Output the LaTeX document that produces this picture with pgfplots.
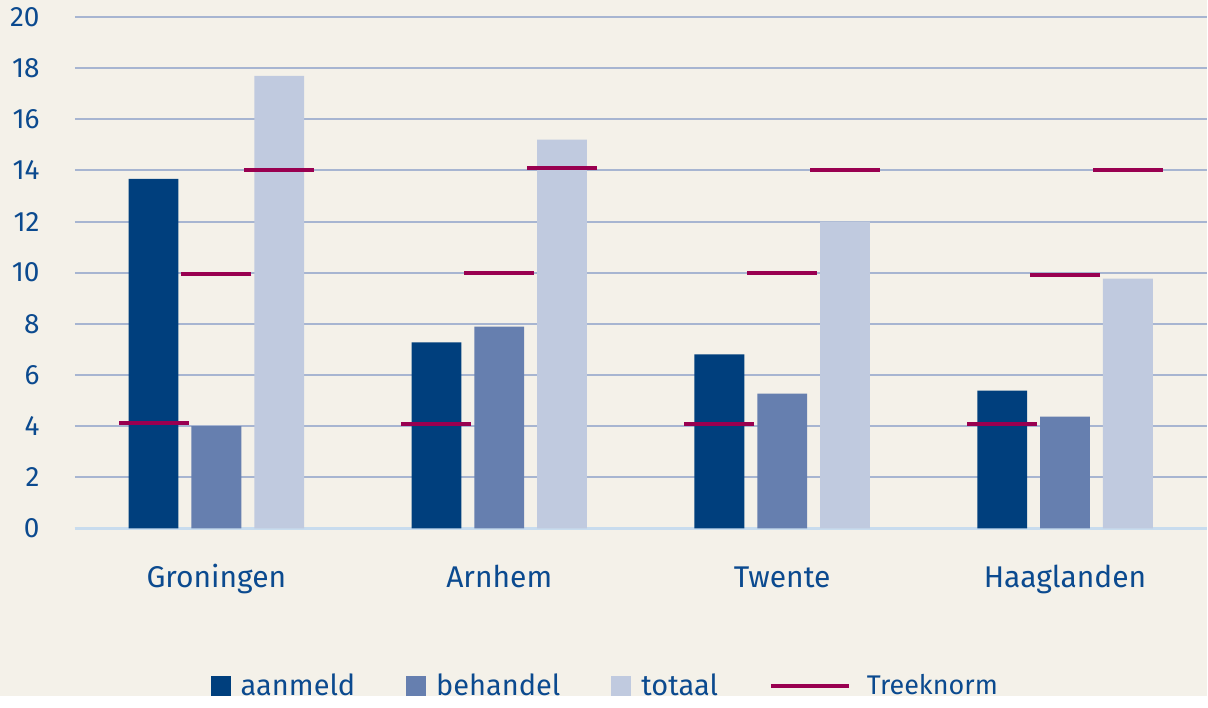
\documentclass[border=0pt]{standalone}
\usepackage{fontspec}
\setmainfont{Fira Sans}
\usepackage{pgfplots}
\pgfplotsset{compat=1.18}

\definecolor{bg}{HTML}{F4F1E9}
\definecolor{txt}{HTML}{0B4A8F}
\definecolor{aanm}{HTML}{003F7D}
\definecolor{behan}{HTML}{667FAF}
\definecolor{totl}{HTML}{C0CADF}
\definecolor{treek}{HTML}{990050}
\definecolor{gridc}{HTML}{A7B5D1}
\definecolor{zeroline}{HTML}{C8DCEE}

\begin{document}
\begin{tikzpicture}
  % page background, 1208 x 697 px at 0.5pt per px
  \fill[bg] (0pt,0pt) rectangle (604pt,348.5pt);
  \begin{axis}[
      at={(37.5pt,84pt)}, anchor=south west,
      scale only axis, width=566.5pt, height=256pt,
      xmin=-0.5, xmax=3.5, ymin=0, ymax=20,
      ytick={0,2,...,20},
      xtick={0,1,2,3},
      xticklabels={Groningen, Arnhem, Twente, Haaglanden},
      major tick length=0pt,
      ymajorgrids,
      grid style={gridc, line width=1pt},
      axis x line*=bottom, axis y line*=left,
      x axis line style={zeroline, line width=1.5pt, -},
      y axis line style={draw=none},
      tick label style={txt},
      yticklabel style={font=\fontsize{14}{16}\selectfont, inner sep=0pt, anchor=east, xshift=-17.5pt},
      xticklabel style={font=\fontsize{15}{17}\selectfont, inner sep=0pt, anchor=base, yshift=-29.5pt},
      /pgf/number format/assume math mode=true,
      bar width=0.176,
      legend style={
          at={(0.470,-0.309)}, anchor=center,
          draw=none, fill=none,
          legend columns=-1,
          font=\fontsize{14.5}{17}\selectfont, text=txt,
          /tikz/every even column/.append style={column sep=23pt},
          /tikz/every odd column/.append style={column sep=2.5pt},
          nodes={inner sep=2.5pt},
      },
    ]
    \addplot[ybar, bar shift=-0.222, fill=aanm, draw=none,
      legend image code/.code={\fill[aanm] (0pt,-5pt) rectangle (10pt,5pt);}]
      coordinates {(0,13.67) (1,7.27) (2,6.8) (3,5.39)};
    \addplot[ybar, bar shift=0, fill=behan, draw=none,
      legend image code/.code={\fill[behan] (0pt,-5pt) rectangle (10pt,5pt);}]
      coordinates {(0,4.0) (1,7.89) (2,5.27) (3,4.37)};
    \addplot[ybar, bar shift=0.222, fill=totl, draw=none,
      legend image code/.code={\fill[totl] (0pt,-5pt) rectangle (10pt,5pt);}]
      coordinates {(0,17.7) (1,15.2) (2,12.0) (3,9.77)};
    \addplot[only marks, mark=-, mark size=17.5pt, treek,
      mark options={line width=2pt},
      legend image code/.code={\draw[treek, line width=2pt] (0pt,0pt) -- (39pt,0pt);}]
      coordinates {
        (-0.222,4.13) (0,9.95) (0.222,14.0)
        (0.778,4.08) (1,10.0) (1.222,14.1)
        (1.778,4.08) (2,9.98) (2.222,14.0)
        (2.778,4.08) (3,9.9)  (3.222,14.0)
      };
    \legend{aanmeld, behandel, totaal, {\fontsize{13.5}{16}\selectfont\hspace*{3pt}Treeknorm}}
  \end{axis}
\end{tikzpicture}
\end{document}
